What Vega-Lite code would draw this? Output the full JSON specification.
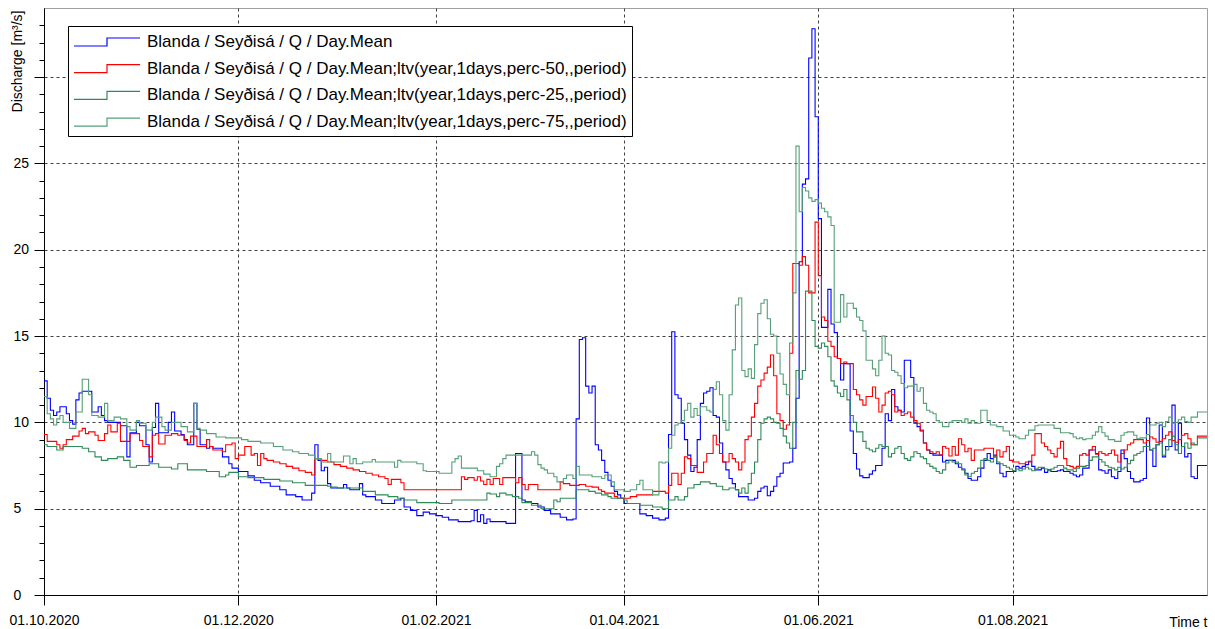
{
"$schema": "https://vega.github.io/schema/vega-lite/v6.json",
"width": 1163,
"height": 587,
"autosize": {"type": "none"},
"padding": {"left": 44, "top": 8, "right": 8, "bottom": 34},
"background": "white",
"config": {"view": {"stroke": "#a0a0a0", "strokeWidth": 1}, "font": "Liberation Sans"},
"resolve": {"axis": {"y": "independent"}},
"layer": [
{
"data": {"values": [
{"d":"2020-10-01","q":12.4,"m":9.3,"l":8.7,"u":11.5},
{"d":"2020-10-02","q":11.4,"m":8.9,"l":8.6,"u":10.5},
{"d":"2020-10-03","q":10.7,"u":10.2},
{"d":"2020-10-04","q":10.4,"u":9.85},
{"d":"2020-10-05","q":10.6,"m":8.7,"l":8.4,"u":10.2},
{"d":"2020-10-06","q":10.9,"m":8.5,"u":10.4},
{"d":"2020-10-07","m":8.7,"l":8.6,"u":10.0},
{"d":"2020-10-08","q":10.5,"m":9.0},
{"d":"2020-10-09","q":10.1,"u":9.65},
{"d":"2020-10-10","q":9.9,"m":9.2},
{"d":"2020-10-11","q":11.3,"u":10.6},
{"d":"2020-10-12","q":11.7,"m":9.5},
{"d":"2020-10-13","q":11.8,"m":9.65,"l":8.5,"u":12.5},
{"d":"2020-10-14","m":9.35},
{"d":"2020-10-15","m":9.45,"l":8.3,"u":11.6},
{"d":"2020-10-16","q":10.6,"u":10.4},
{"d":"2020-10-17","m":9.25,"l":8.0},
{"d":"2020-10-18","q":10.9,"m":8.95,"u":10.3},
{"d":"2020-10-19","q":10.4,"l":7.8},
{"d":"2020-10-20","q":10.1,"m":9.35,"u":11.1},
{"d":"2020-10-21","q":10.0,"m":9.85,"l":7.9,"u":10.1},
{"d":"2020-10-22","m":9.45},
{"d":"2020-10-23","u":10.3},
{"d":"2020-10-24","m":9.95,"l":8.0},
{"d":"2020-10-25","q":9.8,"m":8.9,"u":10.2},
{"d":"2020-10-26","l":7.8},
{"d":"2020-10-27","q":8.0,"u":9.75},
{"d":"2020-10-28","q":9.4,"m":9.35,"l":7.4,"u":9.55},
{"d":"2020-10-30","q":10.0,"l":7.5,"u":10.1},
{"d":"2020-10-31","q":9.8,"m":8.95,"u":9.95},
{"d":"2020-11-01","m":8.6},
{"d":"2020-11-02","q":8.7,"u":9.55},
{"d":"2020-11-03","q":7.7,"m":8.0,"l":7.6},
{"d":"2020-11-04","q":9.7,"m":9.25,"u":10.0},
{"d":"2020-11-05","q":11.1,"m":9.35,"u":10.3},
{"d":"2020-11-06","q":9.4,"m":8.75,"l":7.4},
{"d":"2020-11-07","u":9.75},
{"d":"2020-11-08","m":9.25,"u":9.55},
{"d":"2020-11-09","q":10.0},
{"d":"2020-11-10","q":10.6,"m":9.35,"l":7.3,"u":10.0},
{"d":"2020-11-11","q":9.5},
{"d":"2020-11-12","m":9.25,"l":7.6},
{"d":"2020-11-13","q":9.3,"u":9.75},
{"d":"2020-11-14","q":9.0,"m":8.95},
{"d":"2020-11-15","q":8.7,"m":8.8,"l":7.25,"u":9.45},
{"d":"2020-11-16","m":9.2},
{"d":"2020-11-17","q":11.1,"u":11.1},
{"d":"2020-11-18","q":9.6,"m":8.6,"u":9.65},
{"d":"2020-11-19","q":8.7,"u":9.55},
{"d":"2020-11-21","q":8.5,"m":9.0,"l":7.15,"u":9.35},
{"d":"2020-11-22","q":8.6,"m":8.6},
{"d":"2020-11-23","q":8.5,"m":8.4},
{"d":"2020-11-24","u":9.15},
{"d":"2020-11-25","l":6.85},
{"d":"2020-11-26","q":8.0,"m":8.3},
{"d":"2020-11-27","m":8.7,"l":6.95,"u":9.1},
{"d":"2020-11-28","q":7.6,"l":7.1},
{"d":"2020-11-29","q":7.35,"m":8.8},
{"d":"2020-11-30","m":7.9},
{"d":"2020-12-01","q":7.15,"m":8.1,"l":6.85},
{"d":"2020-12-02","u":9.0},
{"d":"2020-12-03","m":8.6},
{"d":"2020-12-04","q":6.9,"l":6.8,"u":8.9},
{"d":"2020-12-05","m":8.1},
{"d":"2020-12-06","q":6.65,"m":8.2},
{"d":"2020-12-07","m":7.5},
{"d":"2020-12-08","q":6.5,"m":8.2,"u":8.8},
{"d":"2020-12-09","m":7.9,"l":6.7},
{"d":"2020-12-10","m":7.8},
{"d":"2020-12-11","q":6.3},
{"d":"2020-12-12","m":7.7,"u":8.6},
{"d":"2020-12-14","q":6.1,"m":7.6,"l":6.6},
{"d":"2020-12-15","u":8.4},
{"d":"2020-12-16","q":5.8,"m":7.45},
{"d":"2020-12-18","m":7.35,"l":6.5,"u":8.3},
{"d":"2020-12-19","q":5.7},
{"d":"2020-12-20","m":7.2,"u":8.2},
{"d":"2020-12-21","q":5.5},
{"d":"2020-12-22","m":7.1,"l":6.35},
{"d":"2020-12-23","u":8.1},
{"d":"2020-12-24","q":5.9,"m":6.95},
{"d":"2020-12-25","q":8.7,"m":7.9,"u":7.9},
{"d":"2020-12-26","q":7.8},
{"d":"2020-12-27","q":7.2,"m":7.8,"u":7.7},
{"d":"2020-12-28","q":7.4},
{"d":"2020-12-29","q":6.45,"m":7.7,"l":6.3,"u":8.2},
{"d":"2020-12-30","q":6.2,"l":6.25,"u":7.7},
{"d":"2020-12-31","m":7.55},
{"d":"2021-01-01","l":6.2},
{"d":"2021-01-02","m":7.45},
{"d":"2021-01-03","q":6.4,"u":8.05},
{"d":"2021-01-04","q":6.2,"m":7.35},
{"d":"2021-01-05","q":6.1,"u":7.6},
{"d":"2021-01-06","m":7.25,"u":7.9},
{"d":"2021-01-07","u":7.6},
{"d":"2021-01-08","q":6.45,"m":7.15},
{"d":"2021-01-09","q":5.8,"l":6.0,"u":7.7},
{"d":"2021-01-10","q":5.7,"m":7.05},
{"d":"2021-01-12","m":6.95,"u":7.85},
{"d":"2021-01-13","q":5.5,"l":5.8,"u":7.7},
{"d":"2021-01-14","m":6.85},
{"d":"2021-01-15","q":5.3},
{"d":"2021-01-16","m":6.75},
{"d":"2021-01-17","m":6.4,"l":5.7},
{"d":"2021-01-18","m":6.7},
{"d":"2021-01-19","q":5.5,"u":7.4},
{"d":"2021-01-20","l":5.6,"u":7.8},
{"d":"2021-01-21","q":5.6,"m":6.5,"u":7.7},
{"d":"2021-01-22","q":5.1,"m":6.1,"l":5.5},
{"d":"2021-01-24","q":4.9},
{"d":"2021-01-26","q":4.6,"l":5.35,"u":7.6},
{"d":"2021-01-28","q":4.8,"u":7.2},
{"d":"2021-01-29","u":7.15},
{"d":"2021-01-30","q":4.7},
{"d":"2021-02-01","q":4.6},
{"d":"2021-02-02","l":5.3,"u":7.05},
{"d":"2021-02-03","q":4.5},
{"d":"2021-02-05","q":4.35},
{"d":"2021-02-06","l":5.5,"u":7.7},
{"d":"2021-02-07","u":7.9},
{"d":"2021-02-08","q":4.25,"u":8.05},
{"d":"2021-02-09","m":6.85,"u":7.35},
{"d":"2021-02-10","m":6.7},
{"d":"2021-02-11","m":6.8},
{"d":"2021-02-12","q":4.3},
{"d":"2021-02-13","q":4.9,"m":6.65},
{"d":"2021-02-14","q":4.25,"m":6.85,"u":7.2},
{"d":"2021-02-15","q":4.65,"m":6.6},
{"d":"2021-02-16","q":4.15,"m":6.4,"u":7.0},
{"d":"2021-02-17","q":4.4,"m":6.7,"l":5.9},
{"d":"2021-02-18","q":4.25,"m":6.4,"l":5.85,"u":6.85},
{"d":"2021-02-19","m":6.75},
{"d":"2021-02-20","l":5.7,"u":7.45},
{"d":"2021-02-21","m":6.4,"l":5.9,"u":7.6},
{"d":"2021-02-22","m":6.8,"u":7.9},
{"d":"2021-02-23","q":4.15,"l":5.8,"u":8.1},
{"d":"2021-02-25","l":5.7},
{"d":"2021-02-26","q":8.2,"m":6.5},
{"d":"2021-02-27","m":6.8,"l":5.6},
{"d":"2021-02-28","q":5.5,"m":6.4,"l":5.35},
{"d":"2021-03-01","q":5.4,"m":6.1},
{"d":"2021-03-02","m":6.4},
{"d":"2021-03-03","q":5.3,"l":5.2,"u":8.3},
{"d":"2021-03-04","u":8.1},
{"d":"2021-03-05","q":5.1,"m":6.1,"u":7.55},
{"d":"2021-03-06","l":5.0,"u":7.35},
{"d":"2021-03-07","q":4.9,"u":7.25},
{"d":"2021-03-08","u":7.05},
{"d":"2021-03-09","q":4.7},
{"d":"2021-03-10","l":5.5,"u":6.85},
{"d":"2021-03-11","l":5.4,"u":6.55},
{"d":"2021-03-12","q":4.5,"m":6.55,"l":5.6},
{"d":"2021-03-13","m":6.45,"u":6.75},
{"d":"2021-03-14","q":4.35,"u":6.95},
{"d":"2021-03-15","m":6.35},
{"d":"2021-03-16","q":4.4,"u":6.75},
{"d":"2021-03-17","q":10.2,"l":6.1,"u":7.45},
{"d":"2021-03-18","q":14.8,"m":6.4,"u":6.95},
{"d":"2021-03-19","q":14.9},
{"d":"2021-03-20","q":12.1,"m":6.3},
{"d":"2021-03-21","q":11.7,"l":6.0},
{"d":"2021-03-22","q":12.1,"m":6.25,"u":6.85},
{"d":"2021-03-23","q":8.7,"l":5.9},
{"d":"2021-03-24","q":8.4,"m":6.1},
{"d":"2021-03-25","q":7.8,"m":6.0,"l":5.8,"u":6.75},
{"d":"2021-03-26","q":7.1,"m":5.9,"u":6.95},
{"d":"2021-03-27","q":6.65,"l":5.7},
{"d":"2021-03-28","q":6.3,"l":5.6,"u":6.55},
{"d":"2021-03-29","q":6.0,"m":5.7,"u":6.1},
{"d":"2021-03-30","q":5.8,"m":5.6},
{"d":"2021-03-31","q":5.6},
{"d":"2021-04-01","q":5.3,"l":5.5,"u":6.0},
{"d":"2021-04-02","l":5.3},
{"d":"2021-04-03","m":5.7,"u":6.1},
{"d":"2021-04-05","m":5.8,"u":6.4},
{"d":"2021-04-06","q":4.7,"l":5.2,"u":6.65},
{"d":"2021-04-07","u":6.1},
{"d":"2021-04-08","q":4.6},
{"d":"2021-04-10","q":4.45,"m":6.0,"l":5.1,"u":5.8},
{"d":"2021-04-12","q":4.35,"u":7.7},
{"d":"2021-04-13","l":5.0,"u":7.65},
{"d":"2021-04-14","q":4.45,"m":5.9,"u":7.7},
{"d":"2021-04-15","q":9.3,"m":6.35,"l":5.5,"u":8.5},
{"d":"2021-04-16","q":15.25,"m":7.05,"u":9.25},
{"d":"2021-04-17","q":11.6,"l":5.7,"u":9.85},
{"d":"2021-04-18","q":11.4,"m":6.4,"l":5.5,"u":9.95},
{"d":"2021-04-19","q":9.95,"m":7.05,"u":10.1},
{"d":"2021-04-20","q":9.0,"m":8.0,"l":5.7,"u":10.7},
{"d":"2021-04-21","q":8.1,"m":7.9,"l":6.2,"u":11.1},
{"d":"2021-04-22","q":7.15,"m":7.5,"u":10.3},
{"d":"2021-04-23","q":7.4,"l":6.4,"u":10.8},
{"d":"2021-04-24","q":9.0,"m":7.1,"u":10.4},
{"d":"2021-04-25","q":11.1,"l":6.55,"u":10.9},
{"d":"2021-04-26","q":11.7,"m":7.7},
{"d":"2021-04-27","q":11.8,"m":8.2,"u":10.7},
{"d":"2021-04-28","q":12.0,"l":6.45,"u":10.6},
{"d":"2021-04-29","q":10.4,"m":9.25,"u":11.9},
{"d":"2021-04-30","q":10.3,"m":8.7,"l":6.3,"u":12.35},
{"d":"2021-05-01","q":8.8,"m":8.2,"u":11.6},
{"d":"2021-05-02","q":7.7,"m":7.7,"l":6.1,"u":10.1},
{"d":"2021-05-03","q":7.25,"u":9.55},
{"d":"2021-05-04","q":6.75,"m":8.2,"l":6.2,"u":11.6},
{"d":"2021-05-05","q":6.45,"m":7.9,"u":14.2},
{"d":"2021-05-06","q":6.1,"m":7.7,"l":6.1,"u":16.8},
{"d":"2021-05-07","q":5.7,"m":7.25,"l":5.9,"u":17.2},
{"d":"2021-05-08","m":7.7,"l":6.2,"u":13.0},
{"d":"2021-05-09","m":9.0,"l":5.9,"u":12.65},
{"d":"2021-05-10","q":5.5,"m":9.2,"l":6.45,"u":13.1},
{"d":"2021-05-11","m":10.3,"l":7.05,"u":12.55},
{"d":"2021-05-12","q":5.6,"m":11.1,"l":7.7,"u":14.5},
{"d":"2021-05-13","q":6.0,"m":12.1,"l":9.0,"u":16.3},
{"d":"2021-05-14","q":6.2,"m":12.45,"l":9.95,"u":16.9},
{"d":"2021-05-15","q":6.3,"m":12.85,"l":10.2,"u":17.1},
{"d":"2021-05-16","q":5.75,"m":13.2,"l":10.3,"u":16.0},
{"d":"2021-05-17","q":6.0,"m":13.9,"l":10.2,"u":15.1},
{"d":"2021-05-18","q":6.3,"m":12.7,"l":10.0,"u":15.0},
{"d":"2021-05-19","q":6.85,"m":10.5,"l":9.95,"u":14.0},
{"d":"2021-05-20","q":7.05,"m":10.1,"l":9.65,"u":12.8},
{"d":"2021-05-21","q":7.65,"m":9.6,"l":9.2,"u":12.2},
{"d":"2021-05-22","m":9.85,"l":8.8,"u":11.6},
{"d":"2021-05-23","q":7.7,"m":14.0,"l":8.5,"u":14.6},
{"d":"2021-05-24","q":8.5,"m":19.2,"l":10.0,"u":17.5},
{"d":"2021-05-25","q":11.4,"l":13.0,"u":26.0},
{"d":"2021-05-26","q":19.3,"m":19.1,"l":12.5,"u":22.2},
{"d":"2021-05-27","q":23.8,"m":19.6,"l":13.0,"u":23.6},
{"d":"2021-05-28","q":24.1,"m":19.1,"l":17.6,"u":23.4},
{"d":"2021-05-29","q":31.1,"m":17.5,"u":23.0},
{"d":"2021-05-30","q":32.8,"l":15.9,"u":22.8},
{"d":"2021-05-31","q":27.7,"m":21.6,"l":14.4,"u":22.9},
{"d":"2021-06-01","q":21.8,"m":18.5,"l":14.3,"u":22.7},
{"d":"2021-06-02","q":15.5,"m":16.1,"l":14.6,"u":22.4},
{"d":"2021-06-03","m":15.9,"l":14.4,"u":22.2},
{"d":"2021-06-04","q":17.7,"m":14.7,"l":13.8,"u":21.9},
{"d":"2021-06-05","q":15.7,"m":14.4,"l":12.4,"u":21.4},
{"d":"2021-06-06","q":15.2,"m":13.8,"l":12.1,"u":15.8},
{"d":"2021-06-07","q":13.7,"m":13.7,"l":11.7},
{"d":"2021-06-08","q":12.45,"m":13.4,"l":11.5,"u":17.4},
{"d":"2021-06-09","q":13.4,"m":13.5,"l":11.9,"u":16.1},
{"d":"2021-06-10","m":13.4,"l":11.3,"u":16.9},
{"d":"2021-06-11","q":9.5,"l":10.4},
{"d":"2021-06-12","q":8.2,"m":11.9,"l":10.0,"u":16.6},
{"d":"2021-06-13","q":7.3,"m":11.6,"l":9.45,"u":16.1},
{"d":"2021-06-14","q":6.9,"m":11.3,"u":15.9},
{"d":"2021-06-15","q":6.8,"m":11.0,"l":8.9,"u":15.3},
{"d":"2021-06-16","m":11.5,"l":8.5,"u":13.6},
{"d":"2021-06-17","q":7.0,"l":8.4},
{"d":"2021-06-18","q":7.2,"m":12.05,"l":8.3,"u":13.1},
{"d":"2021-06-19","q":7.5,"m":11.4,"l":8.5,"u":12.7},
{"d":"2021-06-20","m":10.6,"l":8.7,"u":13.6},
{"d":"2021-06-21","q":8.5,"m":11.0,"l":8.6,"u":15.0},
{"d":"2021-06-22","q":10.5,"m":11.7,"u":14.0},
{"d":"2021-06-23","q":10.1,"m":11.8,"l":8.0,"u":13.9},
{"d":"2021-06-24","q":11.9,"m":11.6,"l":8.2,"u":13.0},
{"d":"2021-06-25","q":10.9,"m":10.6,"l":8.5,"u":12.9},
{"d":"2021-06-26","q":10.7,"m":10.7,"l":8.6,"u":12.7},
{"d":"2021-06-27","q":10.6,"m":10.4,"l":8.2,"u":12.25},
{"d":"2021-06-28","q":13.6,"m":10.5,"l":7.9,"u":12.0},
{"d":"2021-06-29","m":10.6,"l":7.8,"u":12.1},
{"d":"2021-06-30","q":12.6,"m":10.3,"l":8.0},
{"d":"2021-07-01","q":9.95,"m":10.1,"l":8.3,"u":12.2},
{"d":"2021-07-02","q":9.75,"m":9.95,"l":8.2,"u":11.8},
{"d":"2021-07-03","q":9.5,"m":9.55,"l":8.0,"u":12.0},
{"d":"2021-07-04","q":8.8,"m":8.8,"l":7.9,"u":11.1},
{"d":"2021-07-05","q":8.4,"m":8.4,"l":7.6,"u":10.7},
{"d":"2021-07-06","q":8.2,"m":8.3,"l":7.45,"u":10.6},
{"d":"2021-07-07","q":8.1,"m":8.2,"l":7.35,"u":10.5},
{"d":"2021-07-08","m":8.3,"l":7.15,"u":10.1},
{"d":"2021-07-09","m":8.1,"l":7.05,"u":10.0},
{"d":"2021-07-10","q":7.7,"m":8.6,"l":7.25,"u":9.75},
{"d":"2021-07-11","q":7.8,"m":8.5,"l":7.65},
{"d":"2021-07-12","m":8.05,"l":7.8,"u":10.0},
{"d":"2021-07-13","m":8.6,"l":7.7,"u":10.1},
{"d":"2021-07-14","q":7.6,"m":8.1},
{"d":"2021-07-15","q":7.4,"m":9.05,"l":7.6},
{"d":"2021-07-16","q":7.3,"m":8.7,"l":7.25,"u":10.0},
{"d":"2021-07-17","q":7.05,"m":8.3,"l":6.95,"u":10.2},
{"d":"2021-07-18","q":6.75,"m":8.5,"l":6.85,"u":9.95},
{"d":"2021-07-19","q":6.65,"m":7.8,"l":7.05,"u":10.1},
{"d":"2021-07-20","m":8.4,"l":7.15,"u":9.95},
{"d":"2021-07-21","q":6.85,"l":7.35},
{"d":"2021-07-22","q":7.35,"l":7.8,"u":10.7},
{"d":"2021-07-23","q":7.8,"m":8.5,"l":7.9},
{"d":"2021-07-24","q":8.2,"l":7.8,"u":10.1},
{"d":"2021-07-25","q":7.9,"l":7.7,"u":9.85},
{"d":"2021-07-26","q":8.1,"m":8.0,"l":8.0},
{"d":"2021-07-27","q":7.6,"m":8.4,"l":7.7,"u":9.75},
{"d":"2021-07-28","q":7.05,"m":8.0,"l":7.6},
{"d":"2021-07-29","q":6.85,"m":8.3,"l":7.5,"u":9.5},
{"d":"2021-07-30","q":7.15,"m":8.6,"l":7.4},
{"d":"2021-07-31","m":7.8,"l":7.3,"u":9.25},
{"d":"2021-08-01","m":7.7,"l":7.2},
{"d":"2021-08-02","q":7.45,"l":7.3,"u":9.15},
{"d":"2021-08-03","q":7.35,"m":7.6,"l":7.2,"u":9.05},
{"d":"2021-08-04","q":7.45,"l":7.3},
{"d":"2021-08-05","q":7.55,"m":7.7,"l":7.4,"u":9.25},
{"d":"2021-08-06","q":7.75,"l":7.3,"u":9.55},
{"d":"2021-08-07","q":7.45,"m":8.1,"l":7.2},
{"d":"2021-08-08","q":7.25,"m":9.35,"l":7.3,"u":9.8},
{"d":"2021-08-09","l":7.4,"u":9.85},
{"d":"2021-08-10","q":7.35,"m":8.8},
{"d":"2021-08-11","q":7.1,"m":8.6,"l":7.3},
{"d":"2021-08-12","q":7.25,"m":8.4,"l":7.2},
{"d":"2021-08-13","q":7.15,"m":8.2,"l":7.3},
{"d":"2021-08-14","m":8.0,"l":7.4,"u":9.65},
{"d":"2021-08-15","q":7.2,"m":8.5,"l":7.5},
{"d":"2021-08-16","q":7.25,"m":8.9,"u":9.4},
{"d":"2021-08-17","q":7.15,"m":7.9,"l":7.35},
{"d":"2021-08-18","m":7.5,"l":7.25},
{"d":"2021-08-19","q":7.05,"m":7.45,"u":9.35},
{"d":"2021-08-20","q":6.95,"m":7.35,"l":7.15,"u":9.15},
{"d":"2021-08-21","q":6.85,"m":7.45,"l":7.35,"u":9.05},
{"d":"2021-08-22","q":6.95,"m":8.1,"l":7.45,"u":9.1},
{"d":"2021-08-23","q":7.35,"m":8.2,"u":9.0},
{"d":"2021-08-24","m":8.1,"l":7.5,"u":9.05},
{"d":"2021-08-25","q":8.4,"m":8.4,"l":7.8},
{"d":"2021-08-26","m":8.6,"l":8.0,"u":9.25},
{"d":"2021-08-27","q":8.2,"m":8.15,"u":9.45},
{"d":"2021-08-28","q":7.25,"m":8.3,"l":7.85,"u":9.75},
{"d":"2021-08-29","q":7.2,"m":8.2,"l":7.7,"u":9.4},
{"d":"2021-08-30","q":7.05,"m":8.1,"l":7.5,"u":9.2},
{"d":"2021-08-31","q":7.25,"m":8.2,"l":7.4,"u":9.0},
{"d":"2021-09-01","q":6.85,"m":8.4,"l":7.35},
{"d":"2021-09-02","q":6.75,"m":8.1,"l":7.25,"u":8.9},
{"d":"2021-09-03","q":7.15,"m":7.7,"l":7.4},
{"d":"2021-09-04","q":8.4,"m":8.2,"l":7.3,"u":9.25},
{"d":"2021-09-05","q":7.9,"m":8.4,"l":7.4,"u":9.4},
{"d":"2021-09-06","q":7.15,"m":8.7,"l":7.6,"u":9.45},
{"d":"2021-09-07","q":6.75,"m":8.8,"l":7.8},
{"d":"2021-09-08","q":6.55,"m":9.0,"l":8.1,"u":9.25},
{"d":"2021-09-09","l":8.2,"u":9.05},
{"d":"2021-09-10","q":6.65,"l":8.3,"u":9.1},
{"d":"2021-09-11","q":6.75,"m":8.8,"l":8.6},
{"d":"2021-09-12","q":10.25,"m":8.95,"u":9.3},
{"d":"2021-09-13","q":8.4,"m":9.15,"l":8.4,"u":9.85},
{"d":"2021-09-14","q":7.45,"m":9.05,"l":8.5},
{"d":"2021-09-15","q":8.7,"m":8.85,"l":8.7,"u":9.95},
{"d":"2021-09-16","q":9.85,"m":8.9,"l":8.8,"u":10.0},
{"d":"2021-09-17","q":8.0,"m":9.05,"l":8.1,"u":9.75},
{"d":"2021-09-18","q":8.6,"m":9.25,"l":8.4,"u":10.05},
{"d":"2021-09-19","m":9.45,"l":9.0,"u":10.3},
{"d":"2021-09-20","q":11.0,"m":8.95,"l":9.2,"u":9.95},
{"d":"2021-09-21","q":8.4,"m":8.85,"l":8.7,"u":10.0},
{"d":"2021-09-22","q":9.95,"m":9.0,"l":8.2,"u":10.15},
{"d":"2021-09-23","q":8.6,"m":9.25,"l":8.6,"u":10.3},
{"d":"2021-09-24","q":8.0,"m":9.35,"l":8.8,"u":10.05},
{"d":"2021-09-25","q":8.2,"m":9.05,"l":8.5,"u":10.0},
{"d":"2021-09-26","q":6.85,"m":8.7,"l":8.8,"u":10.3},
{"d":"2021-09-27","q":6.75,"l":8.7},
{"d":"2021-09-28","q":7.5,"m":9.2,"l":9.1,"u":10.6},
{"d":"2021-10-01","q":7.5,"m":9.2,"l":9.1,"u":10.6}
]},
"transform": [
{"fold": ["q", "m", "l", "u"], "as": ["s", "v"]},
{"filter": "isValid(datum.v)"}
],
"mark": {"type": "line", "interpolate": "step-after", "strokeWidth": 1.1},
"encoding": {
"x": {"field": "d", "type": "temporal",
 "scale": {"type": "utc", "domain": [{"year": 2020, "month": 10, "date": 1, "utc": true}, {"year": 2021, "month": 10, "date": 1, "utc": true}]},
 "axis": {"title": "Time t",
  "values": [{"year": 2020, "month": 10, "date": 1, "utc": true}, {"year": 2020, "month": 12, "date": 1, "utc": true}, {"year": 2021, "month": 2, "date": 1, "utc": true}, {"year": 2021, "month": 4, "date": 1, "utc": true}, {"year": 2021, "month": 6, "date": 1, "utc": true}, {"year": 2021, "month": 8, "date": 1, "utc": true}],
  "labelExpr": "utcFormat(datum.value, '%d.%m.%Y')",
  "labelFont": "Liberation Sans", "labelFontSize": 14, "labelColor": "black", "labelPadding": 8, "labelFlush": false, "labelOverlap": false,
  "tickSize": 10, "tickColor": "black", "domainColor": "black",
  "grid": true, "gridColor": "#404040", "gridDash": [3, 3],
  "titleFont": "Liberation Sans", "titleFontSize": 14, "titleFontWeight": "normal", "titleColor": "black",
  "titleX": 1163, "titleY": 31, "titleAlign": "right", "titleBaseline": "alphabetic", "titleAnchor": null}},
"y": {"field": "v", "type": "quantitative",
 "scale": {"domain": [0, 34], "nice": false, "zero": true},
 "axis": {"title": "Discharge [m³/s]", "orient": "left",
  "values": [0, 5, 10, 15, 20, 25, 30],
  "labelExpr": "datum.value === 30 ? '' : datum.label",
  "labelFont": "Liberation Sans", "labelFontSize": 14, "labelColor": "black", "labelAlign": "left", "labelPadding": 21, "labelBaseline": "middle",
  "tickSize": 10, "tickColor": "black", "domainColor": "black",
  "grid": true, "gridColor": "#404040", "gridDash": [3, 3],
  "titleFont": "Liberation Sans", "titleFontSize": 14, "titleFontWeight": "normal", "titleColor": "black",
  "titleAngle": -90, "titleX": -27, "titleY": 2, "titleAlign": "right", "titleBaseline": "middle"}},
"color": {"field": "s", "type": "nominal",
 "scale": {"domain": ["q", "m", "l", "u"], "range": ["#0000ff", "#ff0000", "#2e8b57", "#55a078"]},
 "legend": {"orient": "none", "legendX": 24, "legendY": 18, "title": null,
  "labelExpr": "datum.value === 'q' ? 'Blanda / Seyðisá / Q / Day.Mean' : datum.value === 'm' ? 'Blanda / Seyðisá / Q / Day.Mean;ltv(year,1days,perc-50,,period)' : datum.value === 'l' ? 'Blanda / Seyðisá / Q / Day.Mean;ltv(year,1days,perc-25,,period)' : 'Blanda / Seyðisá / Q / Day.Mean;ltv(year,1days,perc-75,,period)'",
  "labelFont": "Liberation Sans", "labelFontSize": 17, "labelLimit": 0, "labelColor": "black", "labelOffset": 29,
  "symbolType": "M-3.3,0.4H0V-0.4H3.3", "symbolSize": 400, "symbolOffset": 23, "symbolStrokeWidth": 1.2, "symbolFillColor": "transparent",
  "rowPadding": 7.7, "padding": 5, "strokeColor": "black", "fillColor": "white", "cornerRadius": 0}}
}
},
{
"data": {"values": [{}]},
"mark": {"type": "rule", "opacity": 0},
"encoding": {
"y": {"datum": 0, "type": "quantitative",
 "axis": {"orient": "left", "title": null, "labels": false, "grid": false, "domain": false,
  "values": [1, 2, 3, 4, 6, 7, 8, 9, 11, 12, 13, 14, 16, 17, 18, 19, 21, 22, 23, 24, 26, 27, 28, 29, 31, 32, 33],
  "tickSize": 5, "tickColor": "black"}}
}
}
]
}
